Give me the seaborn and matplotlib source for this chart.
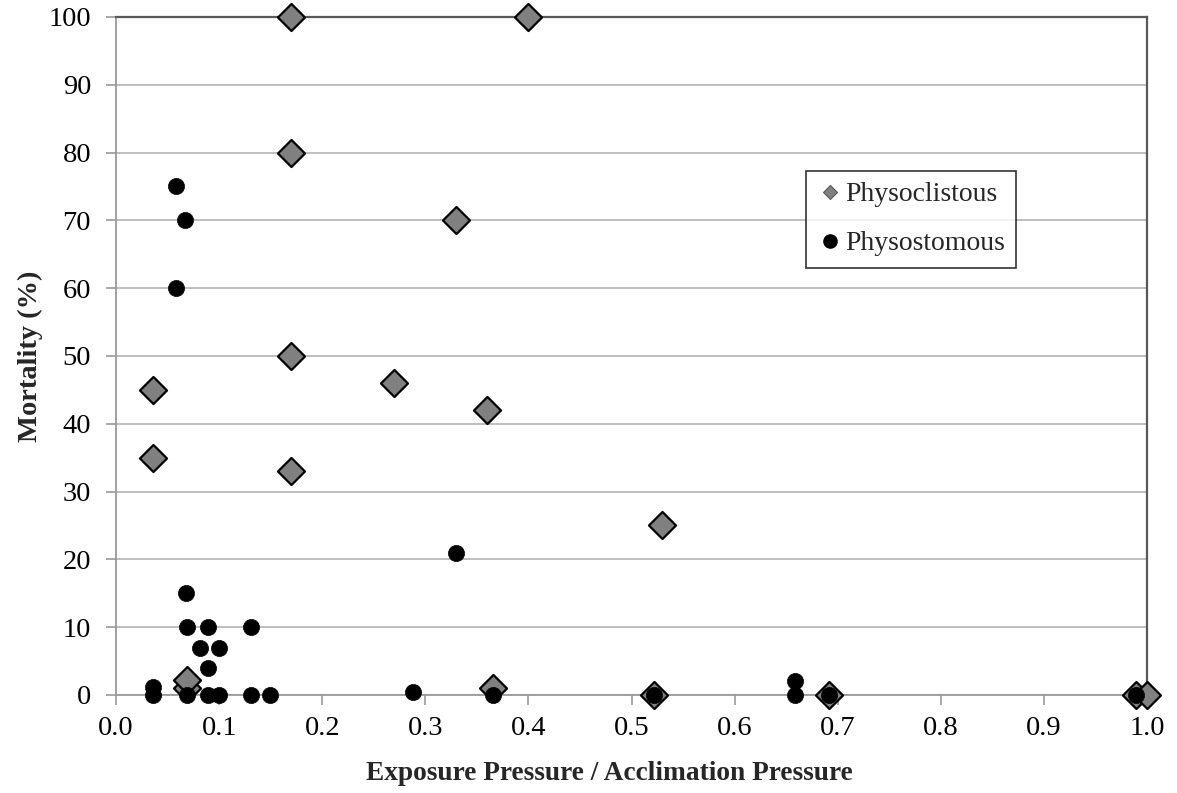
import numpy as np
import pandas as pd
import matplotlib
matplotlib.use("Agg")
import matplotlib.pyplot as plt
from matplotlib.lines import Line2D
import seaborn as sns

# Physoclistous (diamonds)
clist_x = [0.17, 0.40, 0.17, 0.33, 0.17, 0.27, 0.036, 0.36, 0.036, 0.17, 0.53,
           0.069, 0.069, 0.366, 0.522, 0.692, 0.989, 1.0]
clist_y = [100, 100, 80, 70, 50, 46, 45, 42, 35, 33, 25,
           1, 2.2, 1, 0, 0, 0, 0]

# Physostomous (circles)
stom_x = [0.058, 0.067, 0.058, 0.33, 0.068, 0.0685, 0.089, 0.131, 0.081, 0.100,
          0.089, 0.036, 0.036, 0.0685, 0.089, 0.100, 0.131, 0.149, 0.288,
          0.366, 0.522, 0.659, 0.659, 0.692, 0.989]
stom_y = [75, 70, 60, 21, 15, 10, 10, 10, 7, 7,
          4, 1.2, 0, 0, 0, 0, 0, 0, 0.5,
          0, 0, 2, 0, 0, 0]

df_clist = pd.DataFrame({"ratio": clist_x, "mortality": clist_y})
df_stom = pd.DataFrame({"ratio": stom_x, "mortality": stom_y})

sns.set_style("white")
plt.rcParams["font.family"] = ["Liberation Serif", "DejaVu Serif"]

fig = plt.figure(figsize=(11.77, 7.93), dpi=100)
ax = fig.add_axes([0.0986, 0.1236, 0.8759, 0.855])

ax.yaxis.grid(True, color="#b3b3b3", linewidth=1.2, zorder=0)
ax.set_axisbelow(True)

# diamonds first so the circles sit on top
sns.scatterplot(data=df_clist, x="ratio", y="mortality", marker="D", s=190,
                color="#808080", edgecolor="black", linewidth=1.6,
                ax=ax, zorder=3, clip_on=False, legend=False)
sns.scatterplot(data=df_stom, x="ratio", y="mortality", marker="o", s=135,
                color="black", edgecolor="black", linewidth=0.5,
                ax=ax, zorder=4, clip_on=False, legend=False)

ax.set_xlim(0, 1.0)
ax.set_ylim(0, 100)
ax.set_xticks(np.arange(0, 1.01, 0.1))
ax.set_xticklabels([f"{v:.1f}" for v in np.arange(0, 1.01, 0.1)])
ax.set_yticks(np.arange(0, 101, 10))

ax.tick_params(axis="both", labelsize=20.5, colors="#999999", labelcolor="black",
               length=7, width=1.2, direction="out")
ax.tick_params(axis="x", pad=8)
ax.tick_params(axis="y", pad=11)
ax.xaxis.set_ticks_position("bottom")
ax.yaxis.set_ticks_position("left")

for side in ["left", "bottom"]:
    ax.spines[side].set_color("#999999")
    ax.spines[side].set_linewidth(1.3)
for side in ["top", "right"]:
    ax.spines[side].set_color("#595959")
    ax.spines[side].set_linewidth(1.6)

ax.set_xlabel("Exposure Pressure / Acclimation Pressure", fontsize=19.7,
              fontweight="bold")
ax.xaxis.set_label_coords(0.479, -0.098)
ax.set_ylabel("Mortality (%)", fontsize=20.5, fontweight="bold", labelpad=4)

handles = [
    Line2D([], [], linestyle="none", marker="D", markersize=7.5,
           markerfacecolor="#808080", markeredgecolor="#595959", markeredgewidth=0.8),
    Line2D([], [], linestyle="none", marker="o", markersize=9.5,
           markerfacecolor="black", markeredgecolor="black"),
]
leg = ax.legend(handles, ["Physoclistous", "Physostomous"],
                loc="upper right", bbox_to_anchor=(0.873, 0.773), borderaxespad=0,
                fontsize=20, frameon=True, fancybox=False, edgecolor="black",
                handletextpad=0.1, handlelength=0.9, borderpad=0.4,
                labelspacing=0.85)
leg.get_frame().set_linewidth(1.2)

fig.savefig("out.png", dpi=100)
